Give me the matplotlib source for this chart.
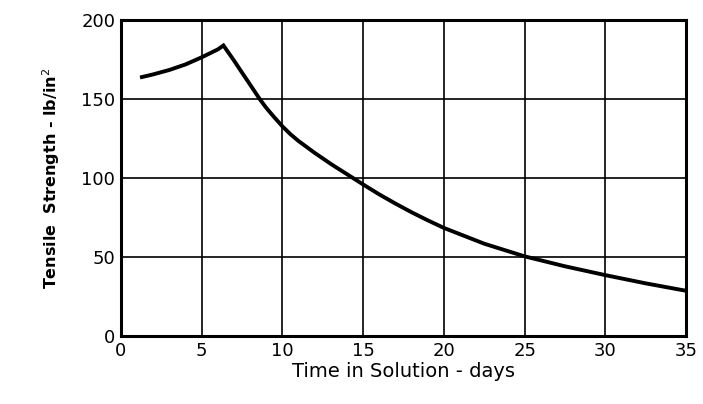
import numpy as np
import matplotlib.pyplot as plt

# values (days, lb/in^2)
days = [1.3, 2, 3, 4, 5, 6, 6.35, 7, 7.5, 8, 8.6, 9, 9.5, 10, 10.5, 11,
        12, 13, 14, 15, 16, 17, 18, 19, 20, 22.5, 25, 27.5, 30, 32.5, 35]
strength = [164, 165.7, 168.5, 172, 176.5, 181.5, 184, 174.5, 166.8, 159.2,
            150, 144.5, 138.5, 132.8, 127.8, 123.5, 116, 109, 102.5, 96,
            89.7, 83.9, 78.4, 73.3, 68.5, 58.5, 50.5, 44.2, 38.6, 33.4, 28.7]

x_ticks = [0, 5, 10, 15, 20, 25, 30, 35]
y_ticks = [0, 50, 100, 150, 200]

fig = plt.figure(figsize=(7.03, 4.04), dpi=100)
ax = fig.add_axes([0.172, 0.168, 0.804, 0.782])

ax.plot(days, strength, color='black', lw=2.8, solid_joinstyle='miter')

ax.set_xlim(0, 35)
ax.set_ylim(0, 200)
ax.set_xticks(x_ticks)
ax.set_yticks(y_ticks)
ax.grid(True, color='black', lw=1.2)
ax.tick_params(length=0, pad=4, labelsize=13)
for s in ax.spines.values():
    s.set_linewidth(2.2)

ax.set_xlabel('Time in Solution - days', fontsize=14, labelpad=2)
ax.set_ylabel('Tensile  Strength - lb/in$^2$', fontsize=11.5,
              fontweight='bold', labelpad=14)

fig.savefig('out.png', dpi=100)
